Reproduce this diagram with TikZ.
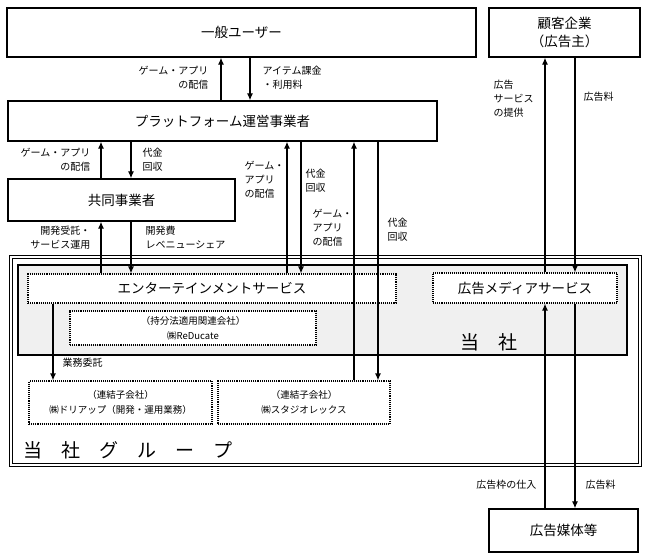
\documentclass[tikz,border=0pt]{standalone}
\usepackage{fontspec}
\setmainfont{Noto Sans CJK JP}
\usetikzlibrary{arrows.meta}
\definecolor{toshagray}{gray}{0.94}
\tikzset{
  box/.style={draw, line width=1.3pt, align=center, inner sep=0pt, font=\fontsize{13.5}{18}\selectfont},
  svc/.style={draw, densely dotted, line width=1.1pt, fill=white, align=center, inner sep=0pt},
  lbl/.style={inner sep=0pt, font=\fontsize{10}{14}\selectfont},
  big/.style={inner sep=0pt, font=\fontsize{19}{19}\selectfont},
}
\begin{document}
\begin{tikzpicture}[x=1pt, y=-1pt, >={Latex[length=7pt,width=6pt]}, line width=1.2pt]
\useasboundingbox (0,0) rectangle (648,559);

% outside parties
\node[box, minimum width=469pt, minimum height=49pt] (user) at (241.5,32.5) {一般ユーザー};
\node[box, minimum width=151pt, minimum height=49pt] (client) at (564.5,32.5) {顧客企業\\（広告主）};
\node[box, minimum width=429pt, minimum height=40pt] (platform) at (222.5,121) {プラットフォーム運営事業者};
\node[box, minimum width=227pt, minimum height=42pt] (kyodo) at (121.5,200) {共同事業者};
\node[box, minimum width=149pt, minimum height=43pt] (baitai) at (563.5,530.5) {広告媒体等};

% group
\node[draw, double, double distance=1.5pt, line width=1pt, minimum width=629pt, minimum height=208pt] (group) at (325.5,361) {};
\node[draw, fill=toshagray, line width=1.2pt, minimum width=609pt, minimum height=90pt] (tosha) at (322.5,310) {};
\node[svc, minimum width=368pt, minimum height=29pt, font=\fontsize{13.5}{18}\selectfont] (ent) at (212,288.5) {エンターテインメントサービス};
\node[svc, minimum width=184pt, minimum height=30pt, font=\fontsize{13.5}{18}\selectfont] (admedia) at (525,288) {広告メディアサービス};
\node[svc, minimum width=246pt, minimum height=34pt, font=\fontsize{9.5}{15}\selectfont] (redu) at (193,328) {（持分法適用関連会社）\\㈱ReDucate};
\node[svc, minimum width=183pt, minimum height=43pt, font=\fontsize{9.5}{15}\selectfont] (dori) at (120.5,402.5) {（連結子会社）\\㈱ドリアップ（開発・運用業務）};
\node[svc, minimum width=172pt, minimum height=43pt, font=\fontsize{9.5}{15}\selectfont] (studio) at (304,402.5) {（連結子会社）\\㈱スタジオレックス};
\node[big, anchor=west] (toshalbl) at (460,342) {当　社};
\node[big, anchor=west] (grouplbl) at (23,450) {当　社　グ　ル　ー　プ};

% arrow columns
\coordinate (ca) at (221,0);
\coordinate (cb) at (250,0);
\coordinate (cc) at (101,0);
\coordinate (cd) at (131,0);
\coordinate (ce) at (287,0);
\coordinate (cf) at (301,0);
\coordinate (cg) at (354,0);
\coordinate (ch) at (378,0);
\coordinate (ci) at (53,0);
\coordinate (cj) at (545,0);
\coordinate (ck) at (575,0);

\foreach \from/\to/\c in {platform/user/ca, kyodo/platform/cc, ent/kyodo/cc, ent/platform/ce, studio/platform/cg, admedia/client/cj, baitai/admedia/cj}
{
    \draw[->] (\from.north -| \c) -- (\to.south -| \c);
}
\foreach \from/\to/\c in {user/platform/cb, platform/kyodo/cd, kyodo/ent/cd, platform/ent/cf, platform/studio/ch, ent/dori/ci, client/admedia/ck, admedia/baitai/ck}
{
    \draw[->] (\from.south -| \c) -- (\to.north -| \c);
}

% labels
\node[lbl, align=right, anchor=east] (l1) at (209,78) {ゲーム・アプリ\\の配信};
\node[lbl, align=left, anchor=west] (l2) at (262,78) {アイテム課金\\・利用料};
\node[lbl, align=right, anchor=east] (l3) at (91,160) {ゲーム・アプリ\\の配信};
\node[lbl, align=left, anchor=west] (l4) at (142,160) {代金\\回収};
\node[lbl, align=right, anchor=east] (l5) at (91,237.5) {開発受託・\\サービス運用};
\node[lbl, align=left, anchor=west] (l6) at (145,237.5) {開発費\\レベニューシェア};
\node[lbl, align=left, anchor=west] (l7) at (244,180) {ゲーム・\\アプリ\\の配信};
\node[lbl, align=left, anchor=west] (l8) at (305,181) {代金\\回収};
\node[lbl, align=left, anchor=west] (l9) at (312,228) {ゲーム・\\アプリ\\の配信};
\node[lbl, align=left, anchor=west] (l10) at (387,230) {代金\\回収};
\node[lbl, align=left, anchor=west] (l11) at (493,99) {広告\\サービス\\の提供};
\node[lbl, anchor=west] (l12) at (583,97) {広告料};
\node[lbl, anchor=west] (l13) at (62,363) {業務委託};
\node[lbl, anchor=east] (l14) at (537,485) {広告枠の仕入};
\node[lbl, anchor=west] (l15) at (585,485) {広告料};
\end{tikzpicture}
\end{document}
